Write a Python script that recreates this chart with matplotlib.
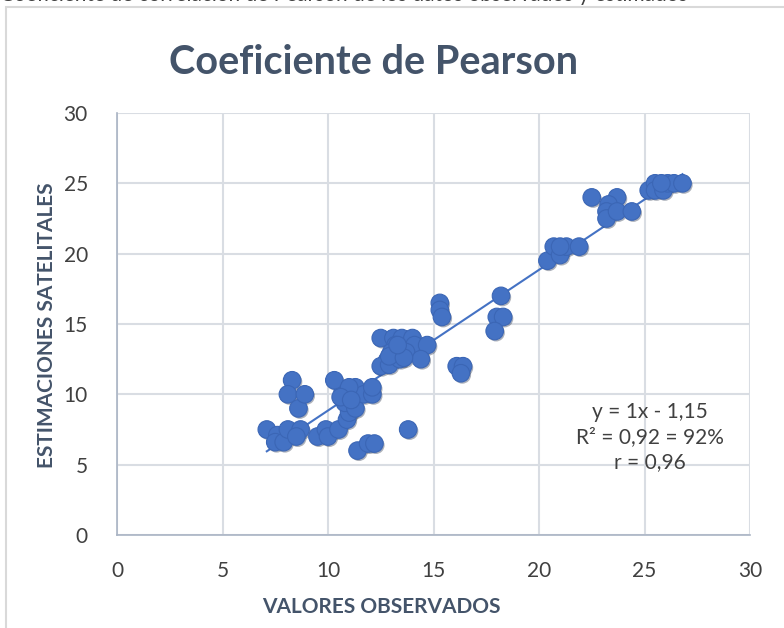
import numpy as np
import matplotlib
matplotlib.use("Agg")
import matplotlib.pyplot as plt
import matplotlib.patches as patches
import matplotlib.patheffects as pe

# Data
observados = [7.1, 7.6, 7.5, 7.9, 8.1, 8.7, 8.5, 8.6, 8.3, 8.1, 8.9,
              9.5, 9.9, 10.0, 10.5, 10.9, 11.0, 10.8, 10.7, 10.3, 11.3, 11.3, 11.7, 12.1, 12.1,
              11.4, 11.9, 12.2, 13.8, 11.0, 10.6, 11.1,
              12.5, 13.1, 13.5, 14.0, 13.2, 14.1, 14.7, 13.0, 13.7, 14.4, 12.8, 12.5, 12.9, 13.4,
              12.9, 13.6, 13.3,
              15.3, 15.3, 15.4, 16.1, 16.4, 16.3,
              18.2, 18.0, 18.3, 17.9,
              20.4, 20.7, 21.0, 21.3, 21.9, 21.0,
              22.5, 23.7, 23.3, 23.2, 23.2, 23.7, 24.4,
              25.2, 25.5, 25.5, 25.9, 26.1, 26.4, 26.8, 25.8]
estimaciones = [7.5, 7.1, 6.6, 6.6, 7.5, 7.5, 7.0, 9.0, 11.0, 10.0, 10.0,
                7.0, 7.5, 7.0, 7.5, 8.2, 8.7, 9.4, 10.2, 11.0, 9.0, 10.5, 10.0, 10.0, 10.5,
                6.0, 6.5, 6.5, 7.5, 10.5, 9.8, 9.6,
                14.0, 14.0, 14.0, 14.0, 13.5, 13.5, 13.5, 13.0, 13.0, 12.5, 12.4, 12.0, 12.1, 12.5,
                12.7, 12.6, 13.5,
                16.5, 16.0, 15.5, 12.0, 12.0, 11.5,
                17.0, 15.5, 15.5, 14.5,
                19.5, 20.5, 19.9, 20.5, 20.5, 20.5,
                24.0, 24.0, 23.5, 23.0, 22.5, 23.0, 23.0,
                24.5, 25.0, 24.5, 24.5, 25.0, 25.0, 25.0, 25.0]
pendiente = 1.0
intercepto = -1.15
ticks = [0, 5, 10, 15, 20, 25, 30]
texto_ajuste = "y = 1x - 1,15\nR² = 0,92 = 92%\nr = 0,96"

azul = "#4472C4"
gris_texto = "#44546A"

fig = plt.figure(figsize=(7.84, 6.28), dpi=100)
ax = fig.add_axes([117 / 784, 1 - 535 / 628, 633 / 784, 422 / 628])

# chart border and the caption cut off above it
fig.add_artist(patches.Rectangle((6 / 784, -0.05), 1.2, 1.05 - 7 / 628,
                                 transform=fig.transFigure, fill=False,
                                 edgecolor="#D9D9D9", linewidth=1.5))
fig.text(0.0, 0.9985, "Coeficiente de correlación de Pearson de los datos observados y estimados",
         fontsize=15, color="#404040", va="baseline", ha="left", family="Lato")

sc = ax.scatter(observados, estimaciones, s=160, color=azul, edgecolor="#3B66B5",
                linewidth=0.8, zorder=3)
sc.set_path_effects([pe.SimplePatchShadow(offset=(1, -1.2), alpha=0.35), pe.Normal()])

x_linea = np.array([min(observados), max(observados)])
ax.plot(x_linea, pendiente * x_linea + intercepto, color=azul, linewidth=1.5, zorder=2)

ax.set_xlim(0, 30)
ax.set_ylim(0, 30)
ax.set_xticks(ticks)
ax.set_yticks(ticks)
ax.grid(True, color="#D9DDE3", linewidth=1.5)
ax.set_axisbelow(True)
for lado in ["top", "right"]:
    ax.spines[lado].set_visible(False)
for lado in ["left", "bottom"]:
    ax.spines[lado].set_color("#A9B4C4")
    ax.spines[lado].set_linewidth(1.2)
ax.tick_params(axis="x", length=0, labelsize=15, labelcolor="#404040", pad=19)
ax.tick_params(axis="y", length=0, labelsize=15, labelcolor="#404040", pad=21)
for lbl in ax.get_xticklabels() + ax.get_yticklabels():
    lbl.set_family("Lato")

fig.text(381 / 784, 1 - 607 / 628, "VALORES OBSERVADOS", fontsize=15, fontweight="bold",
         color=gris_texto, family="Lato", ha="center", va="center")
fig.text(47 / 784, 1 - 325 / 628, "ESTIMACIONES SATELITALES", fontsize=15, fontweight="bold",
         color=gris_texto, family="Lato", ha="center", va="center", rotation=90)
fig.text(374 / 784, 1 - 62 / 628, "Coeficiente de Pearson", fontsize=28.5, fontweight="bold",
         color=gris_texto, family="Lato", ha="center", va="center")

fig.text(650 / 784, 1 - 437 / 628, texto_ajuste, ha="center", va="center",
         fontsize=15, color="#404040", family="Lato", linespacing=1.3)

fig.savefig("out.png", dpi=100)
